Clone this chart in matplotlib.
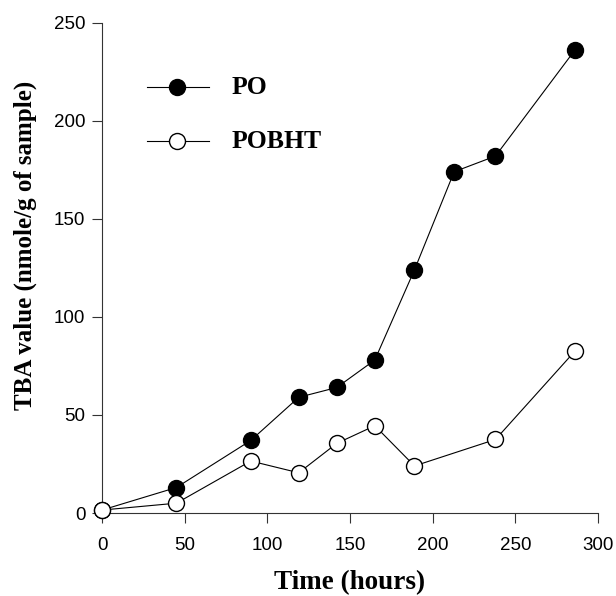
import numpy as np
import matplotlib
matplotlib.use('Agg')
import matplotlib.pyplot as plt

# Datos
time_po = [0, 45, 90, 119, 142, 165, 189, 213, 238, 286]
tba_po = [1.5, 13, 37, 59, 64, 78, 124, 174, 182, 236]

time_pobht = [0, 45, 90, 119, 142, 165, 189, 238, 286]
tba_pobht = [1.5, 5, 26.5, 20.5, 35.5, 44.5, 24, 37.5, 82.5]

x_ticks = [0, 50, 100, 150, 200, 250, 300]
y_ticks = [0, 50, 100, 150, 200, 250]

fig = plt.figure(figsize=(6.16, 5.96), dpi=100)
ax = fig.add_axes([102/616, 83/596, 496/616, 490.3/596])

line_kw = dict(color='black', linewidth=0.8, markersize=11.5, markeredgewidth=1.0,
               markeredgecolor='black', clip_on=False, zorder=3)
ax.plot(time_po, tba_po, marker='o', markerfacecolor='black', **line_kw)
ax.plot(time_pobht, tba_pobht, marker='o', markerfacecolor='white', **line_kw)

ax.set_xlim(0, 300)
ax.set_ylim(0, 250)
ax.set_xticks(x_ticks)
ax.set_yticks(y_ticks)

for s in ['top', 'right']:
    ax.spines[s].set_visible(False)
for s in ['left', 'bottom']:
    ax.spines[s].set_linewidth(0.8)
    ax.spines[s].set_color('#333333')

ax.tick_params(direction='out', length=7, width=0.8, color='#333333', labelsize=13.5, pad=5)
for lab in ax.get_xticklabels() + ax.get_yticklabels():
    lab.set_fontfamily('Liberation Sans')
ax.tick_params(axis='x', pad=10)

# Etiquetas de los ejes
fig.text(350/616, 1 - 583/596, 'Time (hours)', ha='center', va='center',
         fontfamily='Liberation Serif', fontweight='bold', fontsize=19.5)
fig.text(25/616, 1 - 245/596, 'TBA value (nmole/g of sample)', ha='center', va='center',
         rotation=90, fontfamily='Liberation Serif', fontweight='bold', fontsize=18)

# Leyenda dibujada a mano
def px2data(px, py):
    return ax.transData.inverted().transform(fig.transFigure.transform((px/616, 1 - py/596)))

legend_items = [('PO', 'black', 87), ('POBHT', 'white', 141)]
for name, face, py in legend_items:
    x0, y0 = px2data(147, py)
    x1, _ = px2data(209, py)
    xm, _ = px2data(177, py)
    xt, _ = px2data(232, py)
    ax.plot([x0, x1], [y0, y0], color='black', linewidth=0.8, clip_on=False)
    ax.plot([xm], [y0], marker='o', markersize=11.5, markerfacecolor=face,
            markeredgecolor='black', clip_on=False, zorder=4)
    ax.text(xt, y0, name, ha='left', va='center', fontfamily='Liberation Serif',
            fontweight='bold', fontsize=18.5)

fig.savefig('out.png', dpi=100)
